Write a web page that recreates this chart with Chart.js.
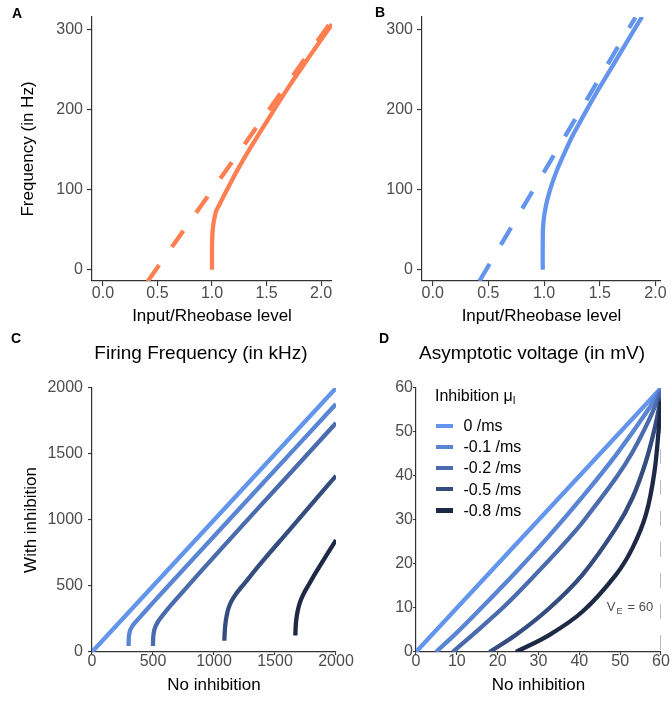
<!DOCTYPE html>
<html>
<head>
<meta charset="utf-8">
<script src="https://cdn.jsdelivr.net/npm/chart.js@4.4.1/dist/chart.umd.min.js"></script>
<style>
  html, body { margin: 0; padding: 0; background: #fff; }
  #fig { position: relative; width: 672px; height: 702px; overflow: hidden;
         font-family: "Liberation Sans", Arial, sans-serif; color: #000; }
  #fig canvas { position: absolute; left: 0; top: 0; }
  .tag { position: absolute; font-weight: bold; font-size: 14px; line-height: 14px; z-index: 2; }
  .ttl { position: absolute; font-size: 19px; line-height: 19px; white-space: nowrap;
         transform: translateX(-50%); z-index: 2; }
  .leg { position: absolute; font-size: 16px; line-height: 16px; white-space: nowrap; z-index: 2; }
  .sw { position: absolute; width: 16.5px; height: 4.3px; z-index: 2; }
  sub { font-size: 10px; vertical-align: -3px; line-height: 0; }
</style>
</head>
<body>
<div id="fig">
  <canvas id="cA" width="672" height="702"></canvas>
  <canvas id="cB" width="672" height="702"></canvas>
  <canvas id="cC" width="672" height="702"></canvas>
  <canvas id="cD" width="672" height="702"></canvas>

  <div class="tag" style="left:12px; top:5.6px;">A</div>
  <div class="tag" style="left:375px; top:4.6px;">B</div>
  <div class="tag" style="left:11px; top:330.8px;">C</div>
  <div class="tag" style="left:379px; top:331.4px;">D</div>

  <div class="ttl" style="left:201px; top:343.2px;">Firing Frequency (in kHz)</div>
  <div class="ttl" style="left:532px; top:343.2px;">Asymptotic voltage (in mV)</div>

  <div class="leg" style="left:435px; top:387.5px;">Inhibition &mu;<sub>I</sub></div>
  <div id="legendD"></div>
</div>

<script>
// ---- Panel A: firing rate vs. normalised input (orange) ----
const aSolidX = [1.0, 1.0, 1.002, 1.008, 1.02, 1.04, 1.07, 1.11, 1.16, 1.23, 1.35, 1.5, 1.7, 1.9, 2.1];
const aSolidY = [0, 22, 40, 52, 63, 74, 82, 93, 106, 124, 152, 185, 228, 268, 307];
const aDashX = [0.41, 2.1];
const aDashY = [-14.5, 311.7];

// ---- Panel B: firing rate vs. normalised input (blue) ----
const bSolidX = [0.988, 0.988, 0.99, 0.997, 1.01, 1.03, 1.07, 1.12, 1.17, 1.25, 1.31, 1.44, 1.59, 1.74, 1.88];
const bSolidY = [0, 30, 50, 63, 75, 88, 107, 126, 142, 166, 181.5, 214, 249, 284, 316.5];
const bDashX = [0.42, 1.82];
const bDashY = [-14, 315.5];

// shared ticks for A and B
const abTicksX = [0, 0.5, 1, 1.5, 2];
const abTicksY = [0, 100, 200, 300];

// ---- Inhibition levels (C and D) ----
const inhibitionNames = ['0 /ms', '-0.1 /ms', '-0.2 /ms', '-0.5 /ms', '-0.8 /ms'];
const inhibitionColors = ['#6495ED', '#5A84D4', '#4A6BAD', '#344C7E', '#1E2A45'];

// ---- Panel C: firing frequency, no inhibition vs. with inhibition ----
const cX0 = [0, 2000];
const cY0 = [0, 2000];
const cX1 = [300, 301, 305, 315, 332, 360, 420, 500, 700, 1000, 1400, 2000];
const cY1 = [45, 95, 135, 170, 198, 230, 292, 374, 576, 877, 1278, 1879];
const cX2 = [500, 501, 505, 515, 532, 560, 620, 700, 900, 1200, 1600, 2000];
const cY2 = [45, 95, 140, 180, 215, 255, 325, 410, 618, 925, 1330, 1735];
const cX3 = [1085, 1087, 1092, 1100, 1115, 1140, 1180, 1250, 1400, 1600, 1800, 2000];
const cY3 = [85, 140, 200, 255, 320, 380, 440, 520, 690, 905, 1120, 1335];
const cX4 = [1667, 1669, 1675, 1688, 1708, 1740, 1780, 1840, 1920, 2000];
const cY4 = [125, 185, 250, 320, 385, 450, 515, 610, 730, 848];
const cTicks = [0, 500, 1000, 1500, 2000];

// ---- Panel D: asymptotic voltage, no inhibition vs. with inhibition ----
const dX0 = [0, 60];
const dY0 = [0, 60];
const dX1 = [4.9, 10, 16.3, 24.5, 32.7, 40.8, 49, 57.1, 60];
const dY1 = [0, 4.4, 10.3, 18.2, 26.5, 35.3, 44.8, 55.4, 60];
const dX2 = [9, 16.3, 21.2, 24.5, 32.7, 37.6, 40.8, 49, 53, 57.1, 60];
const dY2 = [0, 5.9, 10.0, 13.0, 21.0, 26.0, 29.5, 39.6, 45.4, 52.8, 59.2];
const dX3 = [18, 24.5, 32.7, 40.8, 49, 53, 56.3, 58.4, 60];
const dY3 = [0, 3.9, 10, 17.6, 28.2, 35, 43.3, 50.6, 57.8];
const dX4 = [24.5, 32.7, 40.8, 49, 53, 56.3, 58.4, 59.6, 60];
const dY4 = [0, 3.9, 9.2, 17.6, 23.6, 31.2, 41, 52.4, 57];
const dTicks = [0, 10, 20, 30, 40, 50, 60];
const veLineX = [60, 60];
const veLineY = [0, 60];
const veLabelAt = [58.1, 9.4];

const FONT = '"Liberation Sans", Arial, sans-serif';
Chart.defaults.font.family = FONT;

function pts(xs, ys) { return xs.map((x, i) => ({ x: x, y: ys[i] })); }

function scale(o) {
  return {
    type: 'linear',
    position: o.position,
    min: o.min,
    max: o.max,
    afterBuildTicks: s => { s.ticks = o.ticks.map(v => ({ value: v })); },
    afterFit: s => { if (o.position === 'left') s.width = o.size; else s.height = o.size; },
    grid: { display: true, drawOnChartArea: false, drawTicks: true, tickLength: o.tickLen,
            color: '#333333', lineWidth: 1.1 },
    border: { display: true, color: '#333333', width: 1.2 },
    ticks: { color: '#4D4D4D', padding: o.pad, autoSkip: false, maxRotation: 0,
             font: { size: 16, lineHeight: 1 }, callback: o.fmt },
    title: o.title
      ? { display: true, text: o.title, color: '#000', font: { size: 17, lineHeight: 1 },
          padding: o.titlePad }
      : { display: false }
  };
}

const fmt1 = v => Number(v).toFixed(1);
const fmt0 = v => String(v);

function lineSet(data, color, extra) {
  return Object.assign({
    data: data, borderColor: color, backgroundColor: color, borderWidth: 4.3,
    pointRadius: 0, fill: false, tension: 0.35, borderCapStyle: 'butt'
  }, extra || {});
}

function baseOptions(padding, xs, ys) {
  return {
    responsive: false, animation: false, devicePixelRatio: 1, events: [],
    layout: { padding: padding },
    plugins: { legend: { display: false }, tooltip: { enabled: false }, title: { display: false } },
    scales: { x: xs, y: ys }
  };
}

// Panel A
new Chart(document.getElementById('cA'), {
  type: 'line',
  data: { datasets: [
    lineSet(pts(aSolidX, aSolidY), '#FF7F50'),
    lineSet(pts(aDashX, aDashY), '#FF7F50', { borderDash: [20, 22], tension: 0 })
  ] },
  options: baseOptions({ left: 0, top: 17, right: 340, bottom: 377 },
    scale({ position: 'bottom', min: -0.1, max: 2.1, ticks: abTicksX, fmt: fmt1, tickLen: 5, pad: 0,
            size: 44, title: 'Input/Rheobase level', titlePad: { top: 0, bottom: 0 } }),
    scale({ position: 'left', min: -14, max: 316, ticks: abTicksY, fmt: fmt0, tickLen: 5, pad: 4,
            size: 92, title: 'Frequency (in Hz)', titlePad: { top: 20, bottom: 0 } }))
});

// Panel B
new Chart(document.getElementById('cB'), {
  type: 'line',
  data: { datasets: [
    lineSet(pts(bSolidX, bSolidY), '#6495ED'),
    lineSet(pts(bDashX, bDashY), '#6495ED', { borderDash: [20, 22], tension: 0 })
  ] },
  options: baseOptions({ left: 336, top: 17, right: 11, bottom: 377 },
    scale({ position: 'bottom', min: -0.096, max: 2.05, ticks: abTicksX, fmt: fmt1, tickLen: 5, pad: 0,
            size: 44, title: 'Input/Rheobase level', titlePad: { top: 0, bottom: 0 } }),
    scale({ position: 'left', min: -14, max: 316, ticks: abTicksY, fmt: fmt0, tickLen: 5, pad: 4,
            size: 86 }))
});

// Panel C
const cXs = [cX0, cX1, cX2, cX3, cX4];
const cYs = [cY0, cY1, cY2, cY3, cY4];
new Chart(document.getElementById('cC'), {
  type: 'line',
  data: { datasets: inhibitionNames.map((name, i) =>
    lineSet(pts(cXs[i], cYs[i]), inhibitionColors[i], { label: name, order: inhibitionNames.length - i })) },
  options: baseOptions({ left: 0, top: 388, right: 336, bottom: 8 },
    scale({ position: 'bottom', min: 0, max: 2000, ticks: cTicks, fmt: fmt0, tickLen: 3, pad: -1,
            size: 42, title: 'No inhibition', titlePad: { top: 0, bottom: 0 } }),
    scale({ position: 'left', min: 0, max: 2000, ticks: cTicks, fmt: fmt0, tickLen: 4, pad: 5,
            size: 92, title: 'With inhibition', titlePad: { top: 23.2, bottom: 0 } }))
});

// Panel D
const dXs = [dX0, dX1, dX2, dX3, dX4];
const dYs = [dY0, dY1, dY2, dY3, dY4];
const veLabel = {
  id: 'veLabel',
  afterDatasetsDraw(chart) {
    const ctx = chart.ctx;
    const xr = chart.scales.x.getPixelForValue(veLabelAt[0]);
    const yb = chart.scales.y.getPixelForValue(veLabelAt[1]);
    ctx.save();
    ctx.fillStyle = '#4D4D4D';
    ctx.textBaseline = 'alphabetic';
    ctx.textAlign = 'left';
    const big = '13px ' + FONT, small = '9px ' + FONT;
    ctx.font = big; const wV = ctx.measureText('V').width; const wR = ctx.measureText(' = 60').width;
    ctx.font = small; const wE = ctx.measureText('E').width;
    let x = xr - (wV + 1 + wE + 1.5 + wR);
    ctx.font = big; ctx.fillText('V', x, yb); x += wV + 1;
    ctx.font = small; ctx.fillText('E', x, yb + 3.5); x += wE + 1.5;
    ctx.font = big; ctx.fillText(' = 60', x, yb);
    ctx.restore();
  }
};
const dSets = inhibitionNames.map((name, i) =>
  lineSet(pts(dXs[i], dYs[i]), inhibitionColors[i], { label: name, order: inhibitionNames.length - i }));
dSets.push(lineSet(pts(veLineX, veLineY), '#A6A6A6',
  { borderWidth: 1.5, borderDash: [15, 16], borderDashOffset: 29, tension: 0, order: 10 }));
new Chart(document.getElementById('cD'), {
  type: 'line',
  data: { datasets: dSets },
  options: baseOptions({ left: 336, top: 388, right: 11, bottom: 8 },
    scale({ position: 'bottom', min: 0, max: 60, ticks: dTicks, fmt: fmt0, tickLen: 3, pad: -1,
            size: 42, title: 'No inhibition', titlePad: { top: 0, bottom: 0 } }),
    scale({ position: 'left', min: 0, max: 60, ticks: dTicks, fmt: fmt0, tickLen: 3, pad: 0,
            size: 80 })),
  plugins: [veLabel]
});

// Legend for panel D, built from the series names and colours
const legendRoot = document.getElementById('legendD');
const rowCenters0 = 426, rowStep = 21.1;
inhibitionNames.forEach((name, i) => {
  const c = rowCenters0 + i * rowStep;
  const sw = document.createElement('div');
  sw.className = 'sw';
  sw.style.left = '436px';
  sw.style.top = (c - 2.15) + 'px';
  sw.style.background = inhibitionColors[i];
  legendRoot.appendChild(sw);
  const t = document.createElement('div');
  t.className = 'leg';
  t.style.left = '463.5px';
  t.style.top = (c - 7.8) + 'px';
  t.textContent = name;
  legendRoot.appendChild(t);
});
</script>
</body>
</html>
